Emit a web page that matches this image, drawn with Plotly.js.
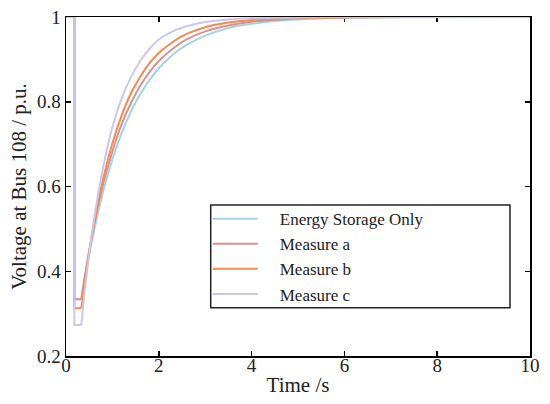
<!DOCTYPE html>
<html>
<head>
<meta charset="utf-8">
<script src="https://cdn.plot.ly/plotly-3.0.1.min.js"></script>
<style>html,body{margin:0;padding:0;background:#fff;}#chart{width:550px;height:404px;}</style>
</head>
<body>
<div id="chart"></div>
<script>
// ---- data ----
var seriesNames = ["Energy Storage Only", "Measure a", "Measure b", "Measure c"];
var seriesColors = ["#a6d3e2", "#d8928c", "#f58a52", "#cbc7e8"];

// fault period (pre-fault, drop, sag plateau)
var timeFault = [0, 0.18, 0.18, 0.33];
var faultStorageOnly = [1, 1, 0.334, 0.334];
var faultMeasureA    = [1, 1, 0.334, 0.334];
var faultMeasureB    = [1, 1, 0.3125, 0.3125];
var faultMeasureC    = [1, 1, 0.273, 0.273];

// recovery period
var timeRecovery = [0.33, 0.4, 0.5, 0.6, 0.8, 1.0, 1.2, 1.4, 1.6, 1.8, 2.0, 2.3, 2.6, 3.0, 3.5, 4.0, 4.5, 5.0, 6.0, 7.0, 8.0, 10.0];
var recStorageOnly = [0.334, 0.380, 0.440, 0.494, 0.588, 0.664, 0.726, 0.777, 0.818, 0.851, 0.879, 0.911, 0.934, 0.956, 0.974, 0.984, 0.9905, 0.9943, 0.998, 0.9993, 0.9997, 1.0];
var recMeasureA    = [0.334, 0.384, 0.449, 0.507, 0.605, 0.683, 0.747, 0.797, 0.838, 0.870, 0.896, 0.925, 0.947, 0.966, 0.980, 0.9887, 0.9935, 0.9963, 0.9988, 0.9996, 0.9999, 1.0];
var recMeasureB    = [0.3125, 0.370, 0.444, 0.509, 0.618, 0.702, 0.768, 0.820, 0.859, 0.891, 0.915, 0.941, 0.960, 0.976, 0.987, 0.993, 0.9963, 0.998, 0.9994, 0.9998, 1.0, 1.0];
var recMeasureC    = [0.273, 0.350, 0.440, 0.520, 0.645, 0.740, 0.808, 0.858, 0.896, 0.925, 0.947, 0.966, 0.978, 0.988, 0.994, 0.997, 0.998, 0.999, 1.0, 1.0, 1.0, 1.0];

var xTickVals = [0, 2, 4, 6, 8, 10];
var yTickVals = [0.2, 0.4, 0.6, 0.8, 1];

var faultSets = [faultStorageOnly, faultMeasureA, faultMeasureB, faultMeasureC];
var recSets = [recStorageOnly, recMeasureA, recMeasureB, recMeasureC];

var serif = "Liberation Serif, Times New Roman, serif";
var pad = "\u00a0\u00a0\u00a0\u00a0";
var traces = [];
for (var i = 0; i < seriesNames.length; i++) {
  traces.push({
    x: timeFault, y: faultSets[i], type: "scatter", mode: "lines",
    name: seriesNames[i], legendgroup: "g" + i, showlegend: false,
    line: {color: seriesColors[i], width: 2, shape: "linear"},
    hoverinfo: "skip"
  });
  traces.push({
    x: timeRecovery, y: recSets[i], type: "scatter", mode: "lines",
    name: pad + seriesNames[i], legendgroup: "g" + i, showlegend: true,
    line: {color: seriesColors[i], width: 2, shape: "spline", smoothing: 1},
    hoverinfo: "skip"
  });
}

function axis(extra) {
  var a = {
    showline: true, linecolor: "#000", linewidth: 1.5, mirror: "ticks",
    ticks: "inside", ticklen: 5, tickwidth: 1.5, tickcolor: "#000",
    showgrid: false, zeroline: false, layer: "below traces",
    tickfont: {family: serif, size: 19, color: "#222"}
  };
  for (var k in extra) a[k] = extra[k];
  return a;
}

var layout = {
  width: 550, height: 404,
  margin: {l: 66, r: 20, t: 17, b: 48},
  paper_bgcolor: "#fff", plot_bgcolor: "#fff",
  font: {family: serif, color: "#222"},
  showlegend: true,
  xaxis: axis({
    range: [0, 10], tickvals: xTickVals, ticklabelstandoff: -8,
    title: {text: "Time /s", font: {family: serif, size: 21, color: "#222"}, standoff: 2}
  }),
  yaxis: axis({
    range: [0.2, 1], tickvals: yTickVals,
    title: {text: "Voltage at Bus 108 / p.u.", font: {family: serif, size: 21, color: "#222"}, standoff: 4}
  }),
  legend: {
    x: 0.3055, y: 0.457, xanchor: "left", yanchor: "top",
    bgcolor: "rgba(0,0,0,0)", borderwidth: 0,
    font: {family: serif, size: 17, color: "#222"},
    itemwidth: 45, traceorder: "normal"
  },
  shapes: [{
    type: "rect", xref: "paper", yref: "paper",
    x0: (210.7 - 66) / 464, x1: (510 - 66) / 464,
    y0: (356 - 307.7) / 339, y1: (356 - 205) / 339,
    line: {color: "#222", width: 1.5}, fillcolor: "#fff", layer: "below"
  }]
};

Plotly.newPlot("chart", traces, layout, {displayModeBar: false, staticPlot: true});
</script>
</body>
</html>
